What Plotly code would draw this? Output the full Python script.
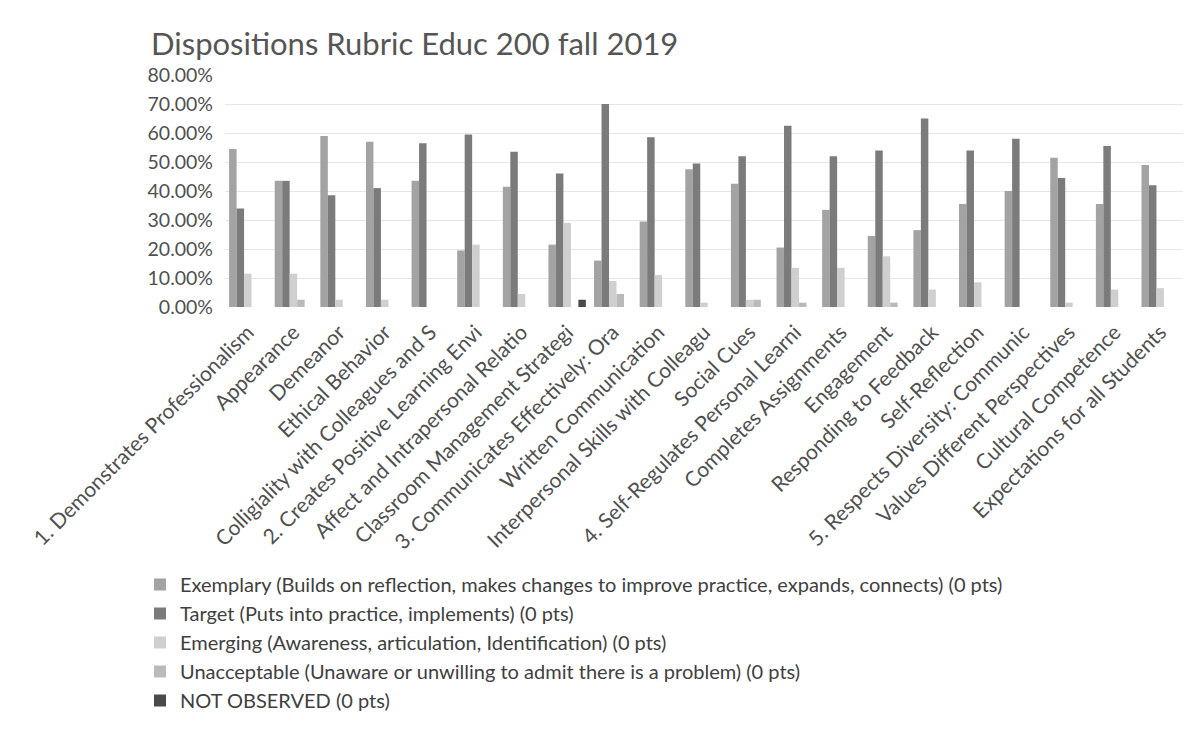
import plotly.graph_objects as go

categories = [
    "1. Demonstrates Professionalism", "Appearance", "Demeanor", "Ethical Behavior",
    "Colligiality with Colleagues and S", "2. Creates Positive Learning Envi",
    "Affect and Intrapersonal Relatio", "Classroom Management Strategi",
    "3. Communicates Effectively: Ora", "Written Communication",
    "Interpersonal Skills with Colleagu", "Social Cues", "4. Self-Regulates Personal Learni",
    "Completes Assignments", "Engagement", "Responding to Feedback", "Self-Reflection",
    "5. Respects Diversity: Communic", "Values Different Perspectives",
    "Cultural Competence", "Expectations for all Students",
]

exemplary = [54.5, 43.5, 59.0, 57.0, 43.5, 19.5, 41.5, 21.5, 16.0, 29.5, 47.5,
             42.5, 20.5, 33.5, 24.5, 26.5, 35.5, 40.0, 51.5, 35.5, 49.0]
target = [34.0, 43.5, 38.5, 41.0, 56.5, 59.5, 53.5, 46.0, 70.0, 58.5, 49.5,
          52.0, 62.5, 52.0, 54.0, 65.0, 54.0, 58.0, 44.5, 55.5, 42.0]
emerging = [11.5, 11.5, 2.5, 2.5, 0.0, 21.5, 4.5, 29.0, 9.0, 11.0, 1.5,
            2.5, 13.5, 13.5, 17.5, 6.0, 8.5, 0.0, 1.5, 6.0, 6.5]
unacceptable = [0.0, 2.5, 0.0, 0.0, 0.0, 0.0, 0.0, 0.0, 4.5, 0.0, 0.0,
                2.5, 1.5, 0.0, 1.5, 0.0, 0.0, 0.0, 0.0, 0.0, 0.0]
not_observed = [0.0, 0.0, 0.0, 0.0, 0.0, 0.0, 0.0, 2.5, 0.0, 0.0, 0.0,
                0.0, 0.0, 0.0, 0.0, 0.0, 0.0, 0.0, 0.0, 0.0, 0.0]

series = [
    ("Exemplary (Builds on reflection, makes changes to improve practice, expands, connects) (0 pts)", exemplary, "#a3a3a3"),
    ("Target (Puts into practice, implements) (0 pts)", target, "#7b7b7b"),
    ("Emerging (Awareness, articulation, Identification) (0 pts)", emerging, "#cfcfcf"),
    ("Unacceptable (Unaware or unwilling to admit there is a problem) (0 pts)", unacceptable, "#bababa"),
    ("NOT OBSERVED (0 pts)", not_observed, "#4a4a4a"),
]

FONT = "Lato"
TXT = "#505050"

fig = go.Figure()
for name, vals, color in series:
    fig.add_trace(go.Bar(
        name=name, x=categories, y=[v / 100 for v in vals],
        marker=dict(color=color, line=dict(width=0)),
    ))

fig.update_layout(
    width=1201, height=729,
    paper_bgcolor="white", plot_bgcolor="white",
    barmode="group", bargap=0.18, bargroupgap=0,
    margin=dict(l=225, r=18, t=75, b=421),
    font=dict(family=FONT, color=TXT),
    title=dict(text="Dispositions Rubric Educ 200 fall 2019",
               x=151 / 1201, xanchor="left", y=1 - 44 / 729, yanchor="middle",
               font=dict(size=31, family=FONT, color="#555555")),
    showlegend=True,
    legend=dict(orientation="v", x=(140 - 225) / 958, xanchor="left",
                y=(308 - 565) / 233, yanchor="top",
                font=dict(size=20, family=FONT, color="#404040"),
                traceorder="normal", itemwidth=30, bgcolor="rgba(0,0,0,0)"),
)
fig.update_xaxes(
    type="category", tickangle=-45, showgrid=False, showline=False,
    tickfont=dict(size=21, family=FONT, color=TXT), ticks="", ticklabelstandoff=8,
)
fig.update_yaxes(
    range=[0, 0.8], dtick=0.1, tickformat=".2%",
    showgrid=True, gridcolor="#e6e6e6", gridwidth=1, zeroline=False,
    tickfont=dict(size=19.5, family=FONT, color=TXT), ticklabelstandoff=11,
)

fig.write_html("out.html")
